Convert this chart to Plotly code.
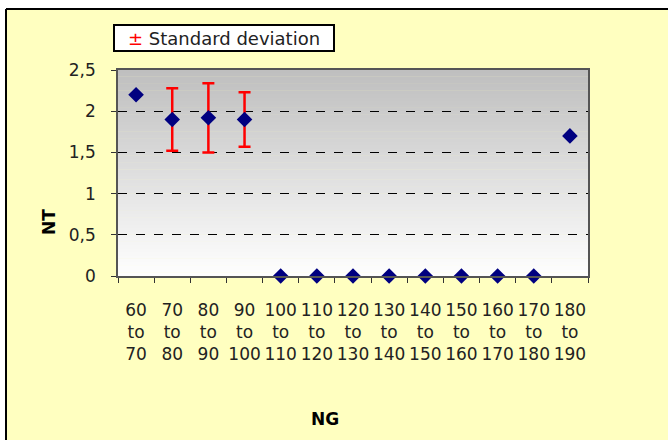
import plotly.graph_objects as go

categories = ["60<br>to<br>70", "70<br>to<br>80", "80<br>to<br>90", "90<br>to<br>100",
              "100<br>to<br>110", "110<br>to<br>120", "120<br>to<br>130", "130<br>to<br>140",
              "140<br>to<br>150", "150<br>to<br>160", "160<br>to<br>170", "170<br>to<br>180",
              "180<br>to<br>190"]
nt_values = [2.2, 1.9, 1.92, 1.9, 0, 0, 0, 0, 0, 0, 0, 0, 1.7]
std_dev = [None, 0.38, 0.42, 0.33, None, None, None, None, None, None, None, None, None]
y_ticks = [0, 0.5, 1, 1.5, 2, 2.5]

W, H = 668, 440
L, R, T, B = 118, 80, 70, 164
pw, ph = W - L - R, H - T - B

def px(x):
    return (x - L) / pw

def py(y):
    return (H - B - y) / ph

FONT = "DejaVu Sans, Verdana, sans-serif"

fig = go.Figure()
fig.add_trace(go.Scatter(
    x=categories, y=nt_values, mode="markers",
    marker=dict(symbol="diamond", size=12, color="#000080"),
    error_y=dict(type="data", array=[v if v is not None else 0 for v in std_dev],
                 visible=True, color="#FF0000", thickness=2.5, width=6),
    cliponaxis=False, showlegend=False,
))

shapes = []
# gradient background for plot area
n = 60
for i in range(n):
    f = i / n
    g = int(round(255 - (255 - 190) * (f + 0.5 / n)))
    shapes.append(dict(type="rect", xref="x domain", yref="y domain",
                       x0=0, x1=1, y0=f, y1=f + 1.0 / n + 0.002,
                       fillcolor=f"rgb({g},{g},{g})", line=dict(width=0), layer="below"))
# white outside of the chart frame
shapes.append(dict(type="rect", xref="paper", yref="paper", x0=px(0), x1=px(W),
                   y0=py(9), y1=py(0), fillcolor="white", line=dict(width=0), layer="above"))
shapes.append(dict(type="rect", xref="paper", yref="paper", x0=px(0), x1=px(6),
                   y0=py(H), y1=py(0), fillcolor="white", line=dict(width=0), layer="above"))
shapes.append(dict(type="line", xref="paper", yref="paper", x0=px(6), x1=px(W),
                   y0=py(9), y1=py(9), line=dict(color="black", width=2), layer="above"))
shapes.append(dict(type="line", xref="paper", yref="paper", x0=px(6), x1=px(6),
                   y0=py(9), y1=py(H), line=dict(color="black", width=2), layer="above"))
# legend box
shapes.append(dict(type="rect", xref="paper", yref="paper", x0=px(114), x1=px(334),
                   y0=py(51), y1=py(25), fillcolor="white", line=dict(color="black", width=2),
                   layer="above"))

annotations = [
    dict(text="<span style='color:#FF0000'>±</span> Standard deviation", xref="paper", yref="paper",
         x=px(224), y=py(38), showarrow=False, font=dict(family=FONT, size=18, color="#222222"),
         xanchor="center", yanchor="middle"),
    dict(text="<b>NT</b>", xref="paper", yref="paper", x=px(49), y=py(222), textangle=-90,
         showarrow=False, font=dict(family=FONT, size=17, color="black"),
         xanchor="center", yanchor="middle"),
    dict(text="<b>NG</b>", xref="paper", yref="paper", x=px(325), y=py(419),
         showarrow=False, font=dict(family=FONT, size=17, color="black"),
         xanchor="center", yanchor="middle"),
]

fig.update_layout(
    width=W, height=H,
    margin=dict(l=L, r=R, t=T, b=B, pad=0),
    paper_bgcolor="#FFFFC0", plot_bgcolor="rgba(0,0,0,0)",
    separators=", ",
    font=dict(family=FONT, size=17, color="#222222"),
    shapes=shapes, annotations=annotations,
    xaxis=dict(type="category", categoryorder="array", categoryarray=categories,
               range=[-0.5, len(categories) - 0.5],
               showgrid=False, zeroline=False, showline=True, linecolor="#555555", linewidth=1.5,
               mirror=True, ticks="outside", tickson="boundaries", ticklen=5, tickcolor="#333333",
               tickangle=0, tickfont=dict(size=17), ticklabelstandoff=18),
    yaxis=dict(range=[0, 2.5], tickvals=y_ticks, showgrid=True, gridcolor="black",
               griddash="dash", gridwidth=1, zeroline=False, showline=True, linecolor="#555555",
               linewidth=1.5, mirror=True, ticks="outside", ticklen=5, tickcolor="#333333",
               tickfont=dict(size=17), ticklabelstandoff=12),
)

fig.write_html("out.html", config={"displayModeBar": False},
               post_script="document.body.style.margin='0px';")
